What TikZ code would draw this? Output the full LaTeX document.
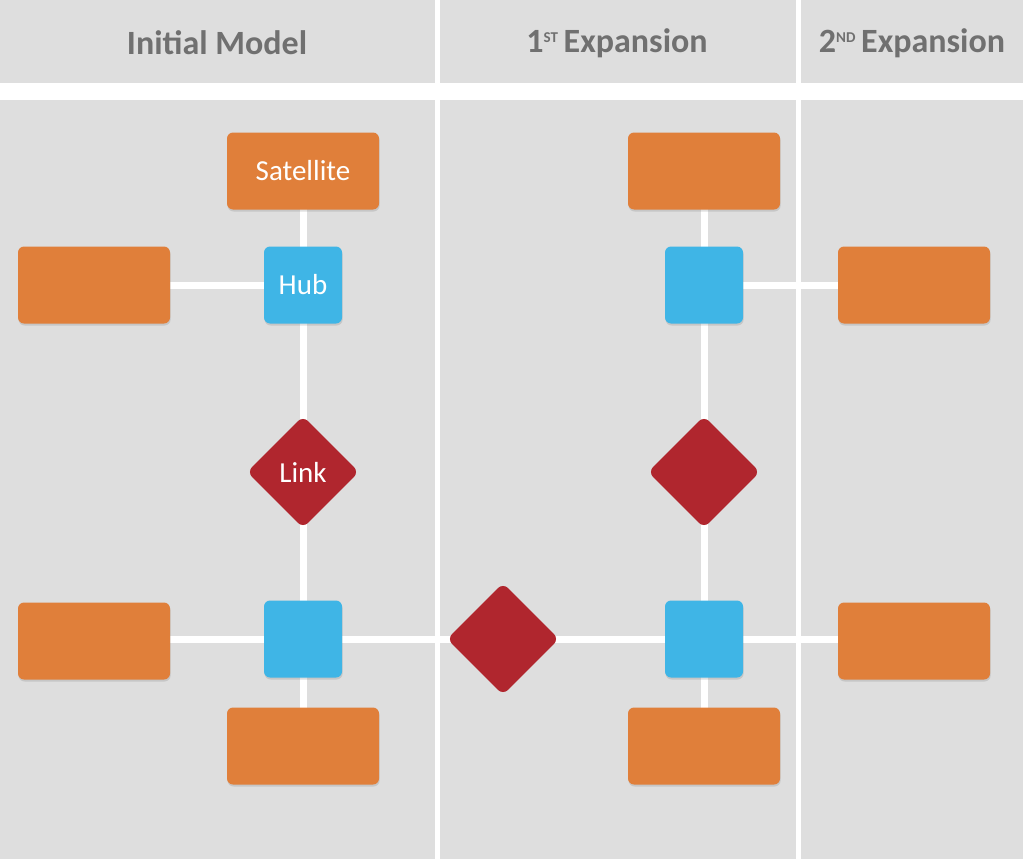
\documentclass[tikz,border=0pt]{standalone}
\usepackage{fontspec}
\setmainfont{Carlito}
\usetikzlibrary{shapes.geometric,shadows}
\pgfdeclarelayer{back}
\pgfsetlayers{back,main}
\definecolor{panel}{RGB}{222,222,222}
\definecolor{sat}{RGB}{224,127,58}
\definecolor{hubc}{RGB}{63,181,230}
\definecolor{linkc}{RGB}{176,38,46}
\definecolor{head}{RGB}{112,112,112}
\tikzset{
  satbox/.style={draw=none,fill=sat,rounded corners=6pt,minimum width=152pt,minimum height=77pt,inner sep=0pt,
    drop shadow={opacity=0.25,shadow xshift=0.6pt,shadow yshift=-2pt},text=white,font=\fontsize{29}{29}\selectfont},
  hubbox/.style={draw=none,fill=hubc,rounded corners=6pt,minimum width=78pt,minimum height=77pt,inner sep=0pt,
    drop shadow={opacity=0.25,shadow xshift=0.6pt,shadow yshift=-2pt},text=white,font=\fontsize{29}{29}\selectfont},
  linkbox/.style={diamond,aspect=1,draw=none,fill=linkc,rounded corners=7pt,minimum width=112pt,minimum height=112pt,inner sep=0pt,
    text=white,font=\fontsize{29}{29}\selectfont},
  conn/.style={draw=white,line width=7pt},
  headtxt/.style={text=head,font=\bfseries\fontsize{34}{34}\selectfont,inner sep=0pt},
  sepline/.style={fill=white,draw=none}
}
\newcommand{\supx}[1]{{\fontsize{15}{15}\selectfont\raisebox{10pt}{#1}}}
\begin{document}
\begin{tikzpicture}[x=1pt,y=-1pt]
\useasboundingbox (0,0) rectangle (1023,859);
\begin{pgfonlayer}{back}
\fill[panel] (0,0) rectangle (1023,859);
\path[sepline] (0,83) rectangle (1023,100);
\path[sepline] (435,0) rectangle (439.5,859);
\path[sepline] (796,0) rectangle (800.5,859);
\end{pgfonlayer}
% headers
\node[headtxt] (h1) at (217,43) {Initial Model};
\node[headtxt] (h2) at (617,43) {1\supx{ST}\,Expansion};
\node[headtxt] (h3) at (912,43) {2\supx{ND}\,Expansion};
% left column
\node[satbox] (sat1) at (303,171) {Satellite};
\node[hubbox] (hub1) at (303,285) {Hub};
\node[satbox] (left1) at (94,285) {};
\node[linkbox] (link1) at (303,472) {Link};
\node[hubbox] (hub2) at (303,639) {};
\node[satbox] (left2) at (94,641) {};
\node[satbox] (bot1) at (303,746) {};
% middle
\node[linkbox] (link2) at (503,639) {};
% right column
\node[satbox] (sat2) at (704,171) {};
\node[hubbox] (hub4) at (704,285) {};
\node[satbox] (right1) at (914,285) {};
\node[linkbox] (link3) at (704,472) {};
\node[hubbox] (hub3) at (704,639) {};
\node[satbox] (right2) at (914,641) {};
\node[satbox] (bot2) at (704,746) {};
\begin{pgfonlayer}{back}
\draw[conn] (sat1.center) -- (hub1.center);
\draw[conn] (left1.center |- hub1.center) -- (hub1.center);
\draw[conn] (hub1.center) -- (link1.center);
\draw[conn] (link1.center) -- (hub2.center);
\draw[conn] (left2.center |- hub2.center) -- (hub2.center);
\draw[conn] (hub2.center) -- (bot1.center);
\draw[conn] (hub2.center) -- (link2.center);
\draw[conn] (link2.center) -- (hub3.center);
\draw[conn] (hub3.center) -- (bot2.center);
\draw[conn] (hub3.center) -- (right2.center |- hub3.center);
\draw[conn] (hub3.center) -- (link3.center);
\draw[conn] (link3.center) -- (hub4.center);
\draw[conn] (hub4.center) -- (sat2.center);
\draw[conn] (hub4.center) -- (right1.center);
\end{pgfonlayer}
\end{tikzpicture}
\end{document}
